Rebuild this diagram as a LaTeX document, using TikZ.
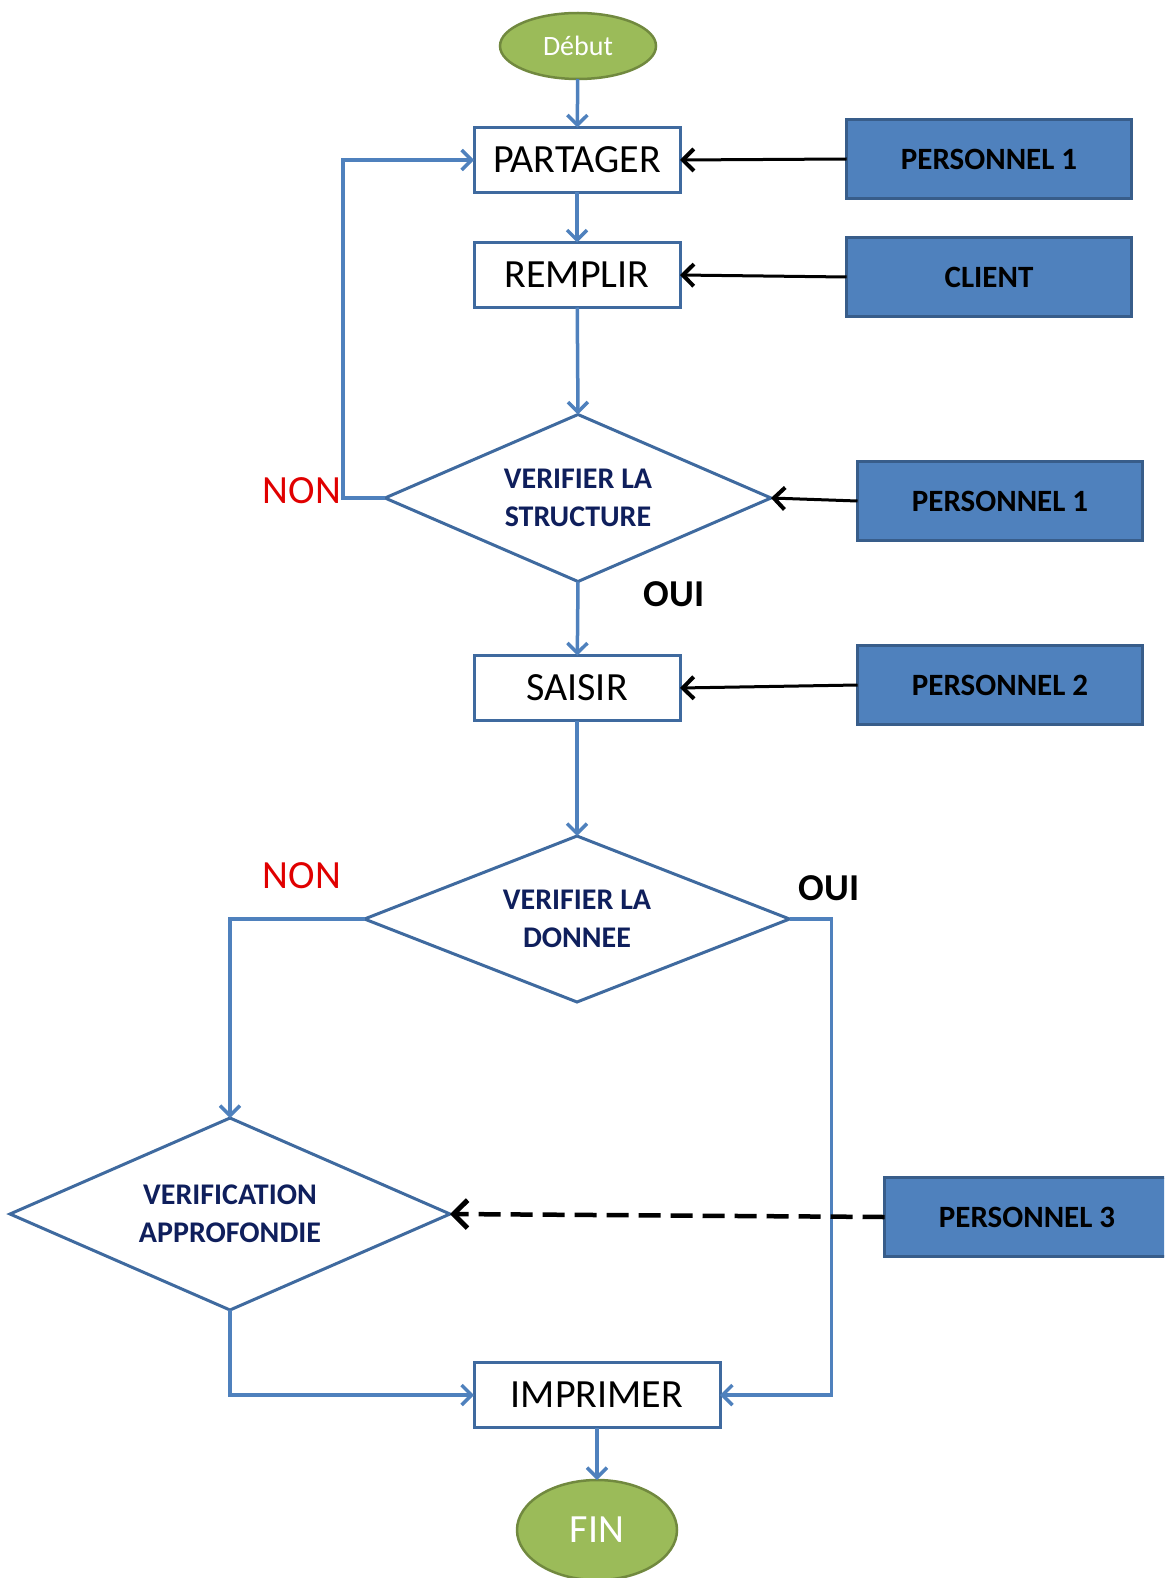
\documentclass[tikz,border=0pt]{standalone}
\usepackage{fontspec}
\setmainfont{Carlito}
\usetikzlibrary{shapes.geometric,arrows.meta}

\definecolor{flowblue}{HTML}{4F81BD}
\definecolor{boxedge}{HTML}{3F6A9F}
\definecolor{roleedge}{HTML}{385D8A}
\definecolor{termfill}{HTML}{9BBB59}
\definecolor{termedge}{HTML}{71893F}
\definecolor{decisiontext}{HTML}{0F1F5C}
\definecolor{nonred}{HTML}{E00000}

\tikzset{
  big/.style={font=\fontsize{40}{46}\selectfont},
  terminal/.style={ellipse, draw=termedge, fill=termfill, line width=2.5pt,
    inner sep=0pt, outer sep=0pt, text=white},
  stepbox/.style={rectangle, draw=boxedge, fill=white, line width=3pt,
    minimum width=206pt, minimum height=65pt, inner sep=0pt, outer sep=0pt, big},
  decision/.style={diamond, draw=boxedge, fill=white, line width=3pt,
    inner sep=0pt, outer sep=0pt},
  dtext/.style={text=decisiontext, align=center,
    font=\fontsize{30}{38}\selectfont\bfseries},
  role/.style={rectangle, draw=roleedge, fill=flowblue, line width=3pt,
    minimum width=285pt, minimum height=79pt, inner sep=0pt, outer sep=0pt,
    font=\fontsize{31}{34}\selectfont\bfseries},
  flow/.style={draw=flowblue, line width=3.5pt,
    -{Straight Barb[length=10pt,width=20pt,line width=3.5pt]}},
  actor/.style={draw=black, line width=3pt,
    -{Straight Barb[length=11pt,width=22pt,line width=4pt]}},
  actordash/.style={actor, line width=4.5pt, dash pattern=on 22pt off 10pt,
    -{Straight Barb[length=14pt,width=28pt,line width=5pt]}},
  yes/.style={font=\fontsize{38}{44}\selectfont\bfseries},
  no/.style={text=nonred, font=\fontsize{40}{46}\selectfont},
}

\begin{document}
\begin{tikzpicture}[x=1pt,y=-1pt]
\useasboundingbox (0,0) rectangle (1164,1578);
\clip (0,0) rectangle (1164,1578);

% main flow
\node[terminal, minimum width=156pt, minimum height=66pt,
  font=\fontsize{28}{32}\selectfont] (debut) at (578,46) {Début};
\node[stepbox] (partager) at (577,160) {PARTAGER};
\node[stepbox] (remplir) at (577,275) {REMPLIR};
\node[decision, minimum width=386pt, minimum height=167pt,
  label={[dtext]center:VERIFIER LA\\STRUCTURE}] (verifstruct) at (578,498) {};
\node[stepbox] (saisir) at (577,688) {SAISIR};
\node[decision, minimum width=425pt, minimum height=166pt,
  label={[dtext]center:VERIFIER LA\\DONNEE}] (verifdonnee) at (577,919) {};
\node[decision, minimum width=440pt, minimum height=192pt,
  label={[dtext]center:VERIFICATION\\APPROFONDIE}] (approfondie) at (230,1214) {};
\node[stepbox, minimum width=246pt] (imprimer) at (597,1395) {IMPRIMER};
\node[terminal, minimum width=160pt, minimum height=100pt, big] (fin) at (597,1530) {FIN};

% actors
\node[role] (pers1a) at (989,159) {PERSONNEL 1};
\node[role] (client) at (989,277) {CLIENT};
\node[role] (pers1b) at (1000,501) {PERSONNEL 1};
\node[role] (pers2) at (1000,685) {PERSONNEL 2};
\node[role] (pers3) at (1027,1217) {PERSONNEL 3};

% branch labels
\node[no] (non1) at (302,491) {NON};
\node[yes] (oui1) at (674,594) {OUI};
\node[no] (non2) at (302,876) {NON};
\node[yes] (oui2) at (829,888) {OUI};

% flow connectors
\draw[flow] (debut) -- (partager);
\draw[flow] (partager) -- (remplir);
\draw[flow] (remplir) -- (verifstruct.north);
\draw[flow] (verifstruct.west) -- ++(-42,0) |- (partager.west);
\draw[flow] (verifstruct.south) -- (saisir);
\draw[flow] (saisir) -- (verifdonnee.north);
\draw[flow] (verifdonnee.west) -| (approfondie.north);
\draw[flow] (verifdonnee.east) -- ++(42,0) |- (imprimer.east);
\draw[flow] (approfondie.south) |- (imprimer.west);
\draw[flow] (imprimer) -- (fin);

% actor connectors
\draw[actor] (pers1a.west) -- (partager.east);
\draw[actor] (client.west) -- (remplir.east);
\draw[actor] (pers1b.west) -- (verifstruct.east);
\draw[actor] (pers2.west) -- (saisir.east);
\draw[actordash] (pers3.west) -- (approfondie.east);
\end{tikzpicture}
\end{document}
